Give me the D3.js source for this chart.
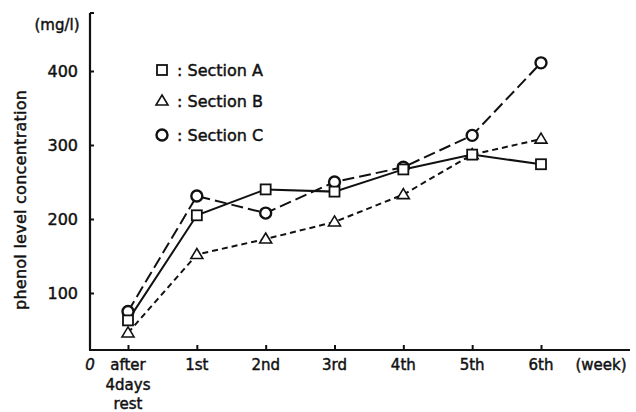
<!DOCTYPE html>
<html><head><meta charset="utf-8">
<script src="https://cdn.jsdelivr.net/npm/d3@7"></script>
<style>
body{margin:0;background:#fff}
text{font-family:"DejaVu Sans",sans-serif;fill:#111;stroke:#111;stroke-width:0.45}
</style></head><body>
<svg id="c" width="636" height="412"></svg>
<script>
const categories = ["after", "1st", "2nd", "3rd", "4th", "5th", "6th"];
const sectionA = [63, 205, 240, 237, 267, 287, 274];
const sectionB = [46, 152, 173, 196, 233, 287, 308];
const sectionC = [75, 231, 208, 250, 270, 313, 411];
const yTicks = [100, 200, 300, 400];
const seriesNames = ["Section A", "Section B", "Section C"];

const svg = d3.select("#c");
const x = d3.scalePoint().domain(categories).range([128, 541]);
const y = d3.scaleLinear().domain([0, 400]).range([367, 71]);
const axisX0 = 90, axisY0 = 350, axisTop = 13;

// axes
svg.append("line").attr("x1", axisX0).attr("x2", axisX0).attr("y1", axisTop).attr("y2", axisY0)
  .attr("stroke", "#111").attr("stroke-width", 2.2);
svg.append("line").attr("x1", axisX0).attr("x2", axisX0 + 4).attr("y1", axisTop).attr("y2", axisTop)
  .attr("stroke", "#111").attr("stroke-width", 2);
svg.append("line").attr("x1", axisX0 - 1).attr("x2", 630).attr("y1", axisY0).attr("y2", axisY0)
  .attr("stroke", "#111").attr("stroke-width", 2.2);

const yAxis = d3.axisLeft(y).tickValues(yTicks).tickSize(-4).tickPadding(12);
const gy = svg.append("g").attr("transform", `translate(${axisX0},0)`).call(yAxis);
gy.select(".domain").remove();
gy.selectAll(".tick line").attr("stroke", "#111").attr("stroke-width", 2);
gy.selectAll(".tick text").attr("font-size", 16).attr("font-family", "DejaVu Sans").attr("fill", "#111");

const xAxis = d3.axisBottom(x).tickSize(-5).tickFormat(() => "");
const gx = svg.append("g").attr("transform", `translate(0,${axisY0})`).call(xAxis);
gx.select(".domain").remove();
gx.selectAll(".tick line").attr("stroke", "#111").attr("stroke-width", 2);

// x tick labels
const xl = svg.append("g");
categories.forEach(c => {
  xl.append("text").attr("x", x(c)).attr("y", 370).attr("text-anchor", "middle")
    .attr("font-size", 15).text(c);
});
xl.append("text").attr("x", x("after")).attr("y", 390).attr("text-anchor", "middle").attr("font-size", 15).text("4days");
xl.append("text").attr("x", x("after")).attr("y", 409).attr("text-anchor", "middle").attr("font-size", 15).text("rest");
svg.append("text").attr("x", 90).attr("y", 370).attr("text-anchor", "middle").attr("font-size", 15).attr("font-style", "italic").text("0");
svg.append("text").attr("x", 601).attr("y", 370).attr("text-anchor", "middle").attr("font-size", 15).text("(week)");

svg.append("text").attr("x", 57).attr("y", 30).attr("text-anchor", "middle").attr("font-size", 15).text("(mg/l)");
svg.append("text").attr("transform", "translate(26,200) rotate(-90)").attr("text-anchor", "middle")
  .attr("font-size", 16).attr("textLength", 220).attr("lengthAdjust", "spacing").text("phenol level concentration");

// lines
const line = d3.line().x((d, i) => x(categories[i])).y(d => y(d));
const series = [
  {vals: sectionA, dash: null, sym: "square"},
  {vals: sectionB, dash: "6,4", sym: "triangle"},
  {vals: sectionC, dash: "12,5", sym: "circle"}
];
series.forEach(s => {
  svg.append("path").attr("d", line(s.vals)).attr("fill", "none").attr("stroke", "#111")
    .attr("stroke-width", 2).attr("stroke-dasharray", s.dash);
});
function sym(g, type, cx, cy) {
  if (type === "square") g.append("rect").attr("x", cx - 5).attr("y", cy - 5).attr("width", 10).attr("height", 10)
    .attr("fill", "#fff").attr("stroke", "#111").attr("stroke-width", 1.8);
  else if (type === "circle") g.append("circle").attr("cx", cx).attr("cy", cy).attr("r", 5.5)
    .attr("fill", "#fff").attr("stroke", "#111").attr("stroke-width", 2.4);
  else g.append("path").attr("d", `M${cx},${cy - 6}L${cx + 6},${cy + 4}L${cx - 6},${cy + 4}Z`)
    .attr("fill", "#fff").attr("stroke", "#111").attr("stroke-width", 1.6);
}
const mg = svg.append("g");
[series[1], series[2], series[0]].forEach(s => {
  s.vals.forEach((v, i) => sym(mg, s.sym, x(categories[i]), y(v)));
});

// legend
const legY = [70, 101, 135];
series.forEach((s, i) => {
  sym(svg, s.sym, 162, legY[i]);
  svg.append("text").attr("x", 177).attr("y", legY[i] + 6).attr("font-size", 16).text(": " + seriesNames[i]);
});
</script></body></html>
